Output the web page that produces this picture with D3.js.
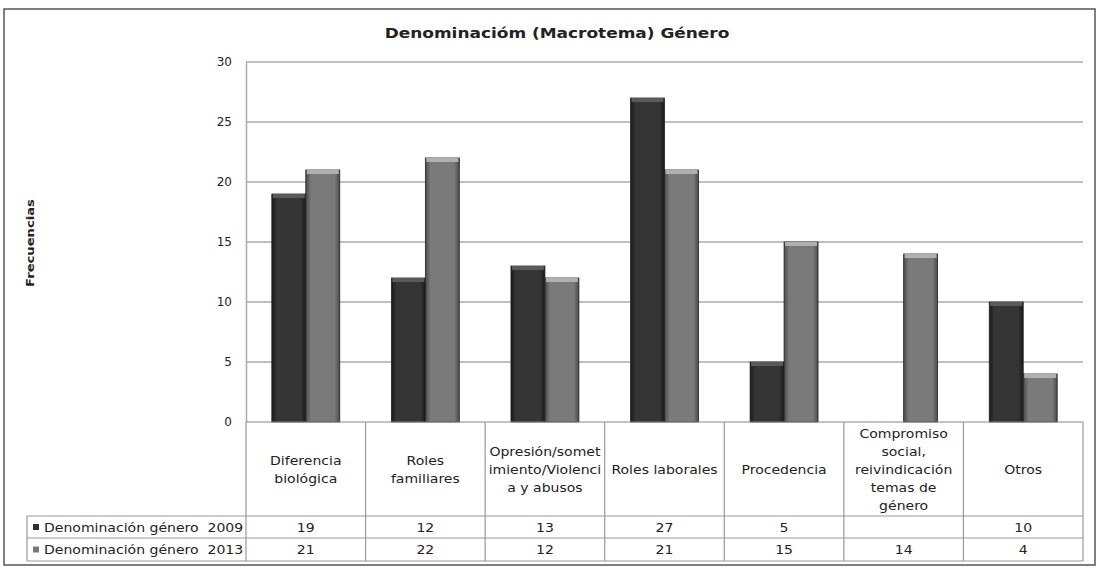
<!DOCTYPE html>
<html>
<head>
<meta charset="utf-8">
<script src="https://cdn.jsdelivr.net/npm/d3@7"></script>
<style>
  body { margin: 0; background: #fff; }
  text { font-family: "DejaVu Sans", Arial, sans-serif; fill: #222; white-space: pre; }
</style>
</head>
<body>
<svg id="chart"></svg>
<script>
// datos
const categories = ["Diferencia biológica", "Roles familiares", "Opresión/sometimiento/Violencia y abusos",
  "Roles laborales", "Procedencia", "Compromiso social, reivindicación temas de género", "Otros"];
const categoryLines = [
  ["Diferencia", "biológica"],
  ["Roles", "familiares"],
  ["Opresión/somet", "imiento/Violenci", "a y abusos"],
  ["Roles laborales"],
  ["Procedencia"],
  ["Compromiso", "social,", "reivindicación", "temas de", "género"],
  ["Otros"]
];
const seriesNames = ["Denominación género\u00a0 2009", "Denominación género\u00a0 2013"];
const values2009 = [19, 12, 13, 27, 5, null, 10];
const values2013 = [21, 22, 12, 21, 15, 14, 4];
const yTicks = [0, 5, 10, 15, 20, 25, 30];

const W = 1099, H = 570;
const plot = { left: 246, right: 1083, top: 62, bottom: 422 };
const SX = 1.17; // el texto original está algo estirado en horizontal

const svg = d3.select("#chart").attr("width", W).attr("height", H);

// texto estirado
function stext(parent, x, y, str, size, anchor, bold) {
  return parent.append("text")
    .attr("transform", `translate(${x},${y}) scale(${SX},1)`)
    .attr("text-anchor", anchor || "start")
    .style("font-size", size + "px")
    .style("font-weight", bold ? "bold" : null)
    .text(str);
}

// marco exterior
svg.append("rect")
  .attr("x", 4).attr("y", 9).attr("width", 1091).attr("height", 556)
  .attr("fill", "#fff").attr("stroke", "#555").attr("stroke-width", 1.5);

// gradientes de barras
const defs = svg.append("defs");
function grad(id, edge, mid) {
  const g = defs.append("linearGradient").attr("id", id)
    .attr("x1", "0%").attr("x2", "100%").attr("y1", "0%").attr("y2", "0%");
  g.append("stop").attr("offset", "0%").attr("stop-color", edge);
  g.append("stop").attr("offset", "15%").attr("stop-color", mid);
  g.append("stop").attr("offset", "85%").attr("stop-color", mid);
  g.append("stop").attr("offset", "100%").attr("stop-color", edge);
}
grad("g2009", "#1a1a1a", "#353535");
grad("g2013", "#4a4a4a", "#7a7a7a");
const fills = ["url(#g2009)", "url(#g2013)"];
const caps = ["#5a5a5a", "#b0b0b0"];
const swatch = ["#2e2e2e", "#777"];

const y = d3.scaleLinear().domain([0, 30]).range([plot.bottom, plot.top]);
const x0 = d3.scaleBand().domain(categories).range([plot.left, plot.right]).paddingInner(0);
const x1 = d3.scaleBand().domain([0, 1]).range([0, x0.bandwidth()]).paddingInner(0).paddingOuter(0.76);

// título
stext(svg, 557, 38, "Denominacióm (Macrotema) Género", 14.5, "middle", true);

// título eje Y
svg.append("text")
  .attr("transform", "translate(34,243) rotate(-90) scale(1.25,1)")
  .attr("text-anchor", "middle")
  .style("font-size", "10.5px").style("font-weight", "bold")
  .text("Frecuencias");

// rejilla
svg.append("g").selectAll("line")
  .data(yTicks.filter(d => d > 0))
  .join("line")
  .attr("x1", plot.left).attr("x2", plot.right)
  .attr("y1", d => y(d)).attr("y2", d => y(d))
  .attr("stroke", "#aaa").attr("stroke-width", 1.5);

// eje Y
const yAxis = svg.append("g")
  .attr("transform", `translate(${plot.left},0)`)
  .call(d3.axisLeft(y).tickValues(yTicks).tickSize(0).tickPadding(14));
yAxis.select(".domain").attr("stroke", "#aaa").attr("stroke-width", 1.5);
yAxis.selectAll("text").style("font-size", "12px").style("font-family", "DejaVu Sans, sans-serif").attr("fill", "#222");

// barras
const series = [values2009, values2013];
series.forEach((vals, si) => {
  const g = svg.append("g");
  const data = categories.map((c, i) => ({ c, v: vals[i] })).filter(d => d.v != null);
  g.selectAll("rect.bar")
    .data(data)
    .join("rect")
    .attr("class", "bar")
    .attr("x", d => x0(d.c) + x1(si))
    .attr("y", d => y(d.v))
    .attr("width", x1.bandwidth())
    .attr("height", d => y(0) - y(d.v))
    .attr("fill", fills[si])
    .attr("stroke", "#222").attr("stroke-width", 0.8);
  g.selectAll("rect.cap")
    .data(data)
    .join("rect")
    .attr("class", "cap")
    .attr("x", d => x0(d.c) + x1(si) + 1)
    .attr("y", d => y(d.v))
    .attr("width", x1.bandwidth() - 2)
    .attr("height", 4)
    .attr("fill", caps[si]);
});

// tabla de datos
const rowTop = 516, rowMid = 538, rowBot = 561, legLeft = 27;
const table = svg.append("g").attr("stroke", "#999").attr("stroke-width", 1.2);
table.append("line").attr("x1", plot.left).attr("x2", plot.right).attr("y1", plot.bottom).attr("y2", plot.bottom).attr("stroke", "#888");
[rowTop, rowMid, rowBot].forEach(yy => {
  table.append("line").attr("x1", legLeft).attr("x2", plot.right).attr("y1", yy).attr("y2", yy);
});
table.append("line").attr("x1", legLeft).attr("x2", legLeft).attr("y1", rowTop).attr("y2", rowBot);
categories.forEach(c => {
  table.append("line").attr("x1", x0(c)).attr("x2", x0(c)).attr("y1", plot.bottom).attr("y2", rowBot);
});
table.append("line").attr("x1", plot.right).attr("x2", plot.right).attr("y1", plot.bottom).attr("y2", rowBot);

// encabezados de categorías
categories.forEach((c, i) => {
  const lines = categoryLines[i];
  const lh = 18;
  const cy = 469 - (lines.length - 1) * lh / 2;
  lines.forEach((l, j) => {
    stext(svg, x0(c) + x0.bandwidth() / 2, cy + j * lh + 4.5, l, 12, "middle");
  });
});

// filas de valores y leyenda
const rowsY = [(rowTop + rowMid) / 2, (rowMid + rowBot) / 2];
series.forEach((vals, si) => {
  svg.append("rect")
    .attr("x", 33).attr("y", rowsY[si] - 3).attr("width", 6).attr("height", 6)
    .attr("fill", swatch[si]);
  stext(svg, 44, rowsY[si] + 4.5, seriesNames[si], 12, "start");
  categories.forEach((c, i) => {
    if (vals[i] == null) return;
    stext(svg, x0(c) + x0.bandwidth() / 2, rowsY[si] + 4.5, String(vals[i]), 12, "middle");
  });
});
</script>
</body>
</html>
